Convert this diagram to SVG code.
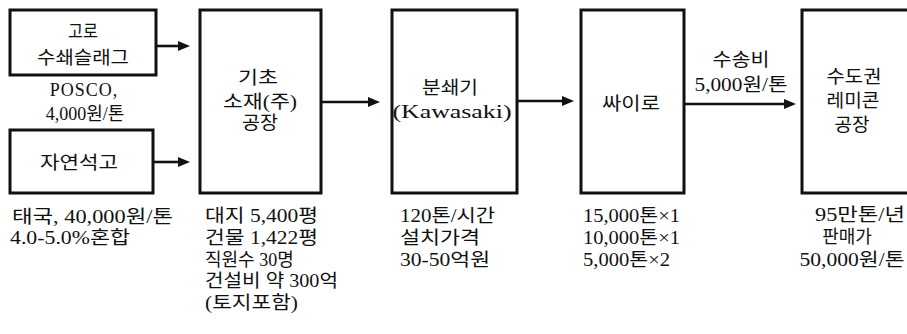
<svg xmlns="http://www.w3.org/2000/svg" width="907" height="334" viewBox="0 0 907 334">
<style>
.box{fill:#fff;stroke:#111;stroke-width:3}
.t{font-family:"Liberation Serif","Noto Sans CJK KR",serif;font-size:18px;fill:#111}
.m{text-anchor:middle}
.conn line{stroke:#111;stroke-width:2.6}
</style>
<defs>
<marker id="ah" markerUnits="userSpaceOnUse" viewBox="0 0 12 10" markerWidth="12" markerHeight="10" refX="2" refY="5" orient="auto">
<path d="M0,0 L12,5 L0,10 z" fill="#111"/>
</marker>
</defs>
<rect width="907" height="334" fill="#fff"/>
<g id="n-gorslag">
<rect class="box" x="10" y="10" width="146" height="65"/>
<text class="t m" x="83" y="38" textLength="30" lengthAdjust="spacingAndGlyphs">고로</text>
<text class="t m" x="83" y="64" textLength="92" lengthAdjust="spacingAndGlyphs">수쇄슬래그</text>
<text class="t m" x="84" y="96" letter-spacing="1">POSCO,</text>
<text class="t m" x="85" y="120">4,000원/톤</text>
</g>
<g id="n-gypsum">
<rect class="box" x="10" y="130" width="143" height="63"/>
<text class="t m" x="79" y="169" textLength="78" lengthAdjust="spacingAndGlyphs">자연석고</text>
<text class="t" x="12" y="223" textLength="161" lengthAdjust="spacingAndGlyphs">태국, 40,000원/톤</text>
<text class="t" x="10" y="244" textLength="120" lengthAdjust="spacingAndGlyphs">4.0-5.0%혼합</text>
</g>
<g id="n-plant">
<rect class="box" x="200" y="10" width="121" height="183"/>
<text class="t m" x="258" y="84" textLength="40" lengthAdjust="spacingAndGlyphs">기초</text>
<text class="t m" x="260" y="108" textLength="74" lengthAdjust="spacingAndGlyphs">소재(주)</text>
<text class="t m" x="260" y="129" textLength="36" lengthAdjust="spacingAndGlyphs">공장</text>
<text class="t" x="205" y="222" textLength="113" lengthAdjust="spacingAndGlyphs">대지 5,400평</text>
<text class="t" x="205" y="244" textLength="113" lengthAdjust="spacingAndGlyphs">건물 1,422평</text>
<text class="t" x="205" y="266">직원수 30명</text>
<text class="t" x="205" y="287" textLength="133" lengthAdjust="spacingAndGlyphs">건설비 약 300억</text>
<text class="t" x="205" y="309" textLength="93" lengthAdjust="spacingAndGlyphs">(토지포함)</text>
</g>
<g id="n-crusher">
<rect class="box" x="392" y="10" width="125" height="183"/>
<text class="t m" x="450" y="94" textLength="56" lengthAdjust="spacingAndGlyphs">분쇄기</text>
<text class="t m" x="452" y="118" textLength="119" lengthAdjust="spacingAndGlyphs">(Kawasaki)</text>
<text class="t" x="400" y="222" textLength="95" lengthAdjust="spacingAndGlyphs">120톤/시간</text>
<text class="t" x="400" y="244" textLength="80" lengthAdjust="spacingAndGlyphs">설치가격</text>
<text class="t" x="400" y="266" textLength="90" lengthAdjust="spacingAndGlyphs">30-50억원</text>
</g>
<g id="n-silo">
<rect class="box" x="581" y="10" width="103" height="183"/>
<text class="t m" x="631" y="110" textLength="58" lengthAdjust="spacingAndGlyphs">싸이로</text>
<text class="t" x="583" y="222" textLength="97" lengthAdjust="spacingAndGlyphs">15,000톤×1</text>
<text class="t" x="583" y="244" textLength="97" lengthAdjust="spacingAndGlyphs">10,000톤×1</text>
<text class="t" x="583" y="266" textLength="87" lengthAdjust="spacingAndGlyphs">5,000톤×2</text>
</g>
<g id="n-remicon">
<rect class="box" x="802" y="10" width="120" height="183"/>
<text class="t m" x="854" y="83" textLength="55" lengthAdjust="spacingAndGlyphs">수도권</text>
<text class="t m" x="853" y="107" textLength="53" lengthAdjust="spacingAndGlyphs">레미콘</text>
<text class="t m" x="852" y="131" textLength="35" lengthAdjust="spacingAndGlyphs">공장</text>
<text class="t m" x="860" y="221" textLength="90" lengthAdjust="spacingAndGlyphs">95만톤/년</text>
<text class="t m" x="847" y="243">판매가</text>
<text class="t m" x="852" y="266" textLength="105" lengthAdjust="spacingAndGlyphs">50,000원/톤</text>
</g>
<g id="connectors" class="conn">
<line x1="156" y1="46" x2="180" y2="46" marker-end="url(#ah)"/>
<line x1="153" y1="162" x2="180" y2="162" marker-end="url(#ah)"/>
<line x1="321" y1="102" x2="370" y2="102" marker-end="url(#ah)"/>
<line x1="517" y1="101" x2="564" y2="101" marker-end="url(#ah)"/>
<line x1="684" y1="104" x2="786" y2="104" marker-end="url(#ah)"/>
<text class="t m" x="741" y="66" textLength="57" lengthAdjust="spacingAndGlyphs">수송비</text>
<text class="t m" x="741" y="91" textLength="93" lengthAdjust="spacingAndGlyphs">5,000원/톤</text>
</g>
</svg>
